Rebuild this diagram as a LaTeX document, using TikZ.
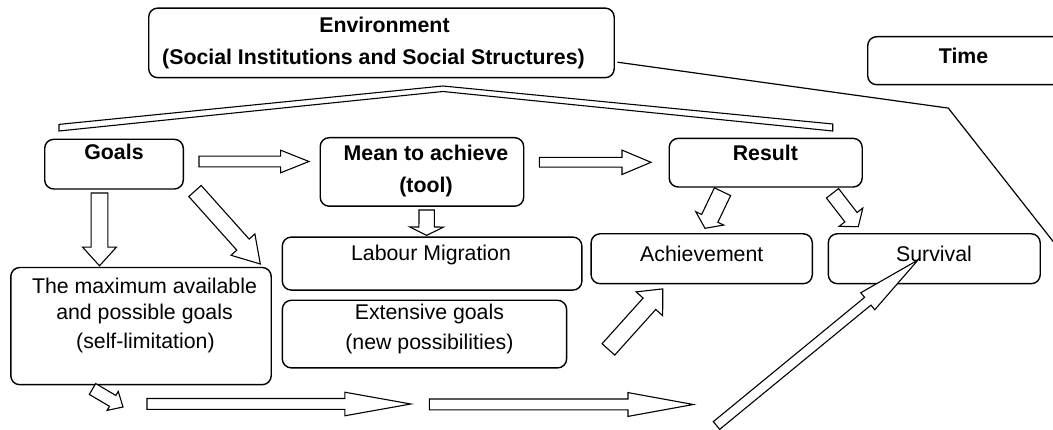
\documentclass[tikz,border=0pt]{standalone}
\usepackage{fontspec}
\setmainfont{Liberation Sans}
\usetikzlibrary{calc}
\newcommand\blockarrow[5]{%
  \coordinate (#1-base) at ($(#2)!#5!(#1)$);
  \draw[barrow] ($(#1)!#3!90:(#2)$) -- ($(#1-base)!#3!90:(#2)$) -- ($(#1-base)!#4!90:(#2)$)
    -- (#2) -- ($(#1-base)!#4!-90:(#2)$) -- ($(#1-base)!#3!-90:(#2)$) -- ($(#1)!#3!-90:(#2)$) -- cycle;
}
\begin{document}
\begin{tikzpicture}[x=1pt,y=-1pt,
  box/.style={draw, line width=1.4pt, rounded corners=9pt, anchor=north west, inner sep=0pt},
  txt/.style={inner sep=0pt, text height=15.25pt, text depth=0pt, anchor=center, font=\fontsize{21.3}{25}\selectfont},
  btxt/.style={txt, font=\fontsize{21.3}{25}\selectfont\bfseries},
  barrow/.style={draw, fill=white, line width=1.1pt, line join=miter},
  thinline/.style={draw, line width=1.2pt}]
\useasboundingbox (0,0) rectangle (1053,430);

% boxes
\node[box, minimum width=465.5pt, minimum height=69.6pt] (env) at (148,7.4) {};
\node[box, minimum width=200pt, minimum height=48pt] (time) at (867,36) {};
\node[box, minimum width=138.6pt, minimum height=49.7pt] (goals) at (44,138.6) {};
\node[box, minimum width=203.5pt, minimum height=68.5pt] (mean) at (319.5,137) {};
\node[box, minimum width=193pt, minimum height=48.6pt] (result) at (668.5,137.7) {};
\node[box, minimum width=299.6pt, minimum height=53pt] (labour) at (281.6,236.4) {};
\node[box, minimum width=284.3pt, minimum height=67.6pt] (ext) at (281.6,299.6) {};
\node[box, minimum width=260.4pt, minimum height=117.2pt] (max) at (10.1,266.8) {};
\node[box, minimum width=221.2pt, minimum height=49.9pt] (ach) at (590.4,233.1) {};
\node[box, minimum width=211.9pt, minimum height=49.9pt] (surv) at (827.6,233.1) {};

% texts
\node[btxt] (envt1) at (384.5,24.5) {Environment};
\node[btxt] (envt2) at (373.5,56.5) {(Social Institutions and Social Structures)};
\node[btxt] (timet) at (963.6,56) {Time};
\node[btxt] (goalst) at (114,152) {Goals};
\node[btxt] (meant1) at (426,153) {Mean to achieve};
\node[btxt] (meant2) at (426,184.5) {(tool)};
\node[btxt] (resultt) at (765.4,153) {Result};
\node[txt] (labourt) at (431,253) {Labour Migration};
\node[txt] (extt1) at (429.4,312) {Extensive goals};
\node[txt] (extt2) at (429.4,341.5) {(new possibilities)};
\node[txt] (maxt1) at (144.5,286) {The maximum available};
\node[txt] (maxt2) at (144.5,312) {and possible goals};
\node[txt] (maxt3) at (145.4,341) {(self-limitation)};
\node[txt] (acht) at (701.8,254) {Achievement};
\node[txt] (survt) at (934,254) {Survival};

% band from environment
\draw[barrow] (59,124.4) -- (443,86) -- (832.7,124) -- (832.7,131) -- (443,91.5) -- (59,131) -- cycle;

% line to time
\coordinate (tl0) at (617.5,62.2);
\coordinate (tl1) at (948.3,108.1);
\coordinate (tl2) at (1060,250.2);
\draw[thinline] (tl0) -- (tl1) -- (tl2);

% block arrows
\coordinate (a1t) at (199,161.5);   \coordinate (a1h) at (309,161.5);
\blockarrow{a1t}{a1h}{5.4pt}{11.3pt}{28.4pt}
\coordinate (a2t) at (539.4,162.3); \coordinate (a2h) at (651,162.3);
\blockarrow{a2t}{a2h}{4.9pt}{12.2pt}{29pt}
\coordinate (a3t) at (99.5,193);    \coordinate (a3h) at (99.5,265.8);
\blockarrow{a3t}{a3h}{8.4pt}{16.9pt}{18.6pt}
\coordinate (a4t) at (195,191);     \coordinate (a4h) at (260.3,264);
\blockarrow{a4t}{a4h}{8.3pt}{16pt}{26pt}
\coordinate (a5t) at (426.7,210);   \coordinate (a5h) at (426.6,235.4);
\blockarrow{a5t}{a5h}{7.7pt}{16.9pt}{8.4pt}
\coordinate (a6t) at (722.5,191.7); \coordinate (a6h) at (705,228.3);
\blockarrow{a6t}{a6h}{9pt}{15.5pt}{11pt}
\coordinate (a7t) at (832.5,193.3); \coordinate (a7h) at (858.3,226.7);
\blockarrow{a7t}{a7h}{7.7pt}{15pt}{12pt}
\coordinate (a8t) at (92.5,389);    \coordinate (a8h) at (123,407);
\blockarrow{a8t}{a8h}{6.3pt}{11pt}{12pt}
\coordinate (a9t) at (147,404);     \coordinate (a9h) at (410.8,404);
\blockarrow{a9t}{a9h}{5.45pt}{11.8pt}{66pt}
\coordinate (a10t) at (429.3,404.5); \coordinate (a10h) at (693.4,404.5);
\blockarrow{a10t}{a10h}{5.45pt}{11.9pt}{65.4pt}
\coordinate (a11t) at (608.4,349.4); \coordinate (a11h) at (662.8,288.9);
\blockarrow{a11t}{a11h}{8.5pt}{17.8pt}{20pt}
\coordinate (a12t) at (716.5,425.5); \coordinate (a12h) at (918,260);
\blockarrow{a12t}{a12h}{5pt}{11pt}{65pt}
\end{tikzpicture}
\end{document}
